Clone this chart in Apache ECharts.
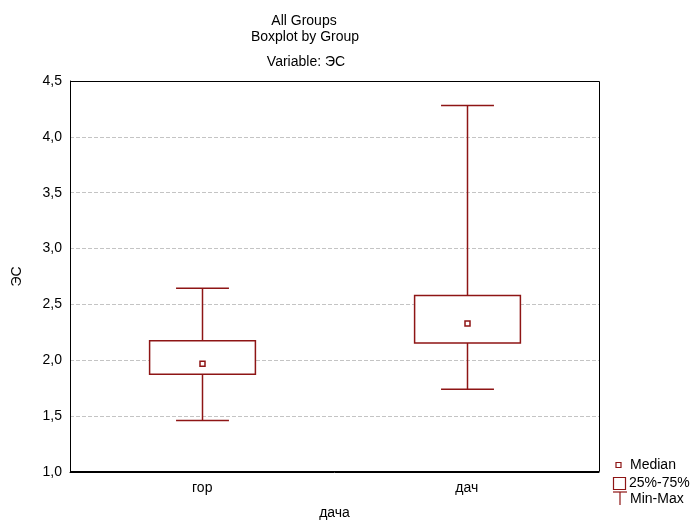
<!DOCTYPE html>
<html><head><meta charset="utf-8">
<script src="https://cdn.jsdelivr.net/npm/echarts@6/dist/echarts.min.js"></script>
<style>html,body{margin:0;padding:0;background:#fff}#c{width:694px;height:520px}</style>
</head><body><div id="c"></div>
<script>
var categories = ['гор', 'дач'];
var minVals = [1.46, 1.74];
var q1Vals = [1.875, 2.155];
var medianVals = [1.97, 2.33];
var q3Vals = [2.175, 2.58];
var maxVals = [2.645, 4.28];

var RED = '#8e1515';
var FONT = 'Liberation Sans, Arial, sans-serif';
var FS = 14;
var data = categories.map(function (c, i) { return [i, minVals[i], q1Vals[i], medianVals[i], q3Vals[i], maxVals[i]]; });

var chart = echarts.init(document.getElementById('c'), null, { renderer: 'canvas' });
chart.setOption({
  backgroundColor: '#fff',
  animation: false,
  textStyle: { fontFamily: FONT },
  grid: { left: 70, right: 95, top: 81, bottom: 48, show: false, containLabel: false, outerBoundsMode: 'none' },
  xAxis: {
    type: 'category', data: categories, boundaryGap: true,
    name: 'дача', nameLocation: 'middle', nameGap: 34,
    nameTextStyle: { color: '#000', fontSize: FS, fontFamily: FONT, verticalAlign: 'top' },
    axisLine: { lineStyle: { color: '#000', width: 1 } },
    axisTick: { inside: true, alignWithLabel: true, length: 3, lineStyle: { color: '#000' } },
    axisLabel: { color: '#000', fontSize: FS, fontFamily: FONT, margin: 9 },
    splitLine: { show: false }
  },
  yAxis: {
    type: 'value', min: 1, max: 4.5, interval: 0.5,
    name: 'ЭС', nameLocation: 'middle', nameGap: 46, nameRotate: 90,
    nameTextStyle: { color: '#000', fontSize: FS, fontFamily: FONT },
    axisLine: { show: true, lineStyle: { color: '#000', width: 1 } },
    axisTick: { show: false },
    axisLabel: { color: '#000', fontSize: FS, fontFamily: FONT, margin: 8,
      formatter: function (v) { return v.toFixed(1).replace('.', ','); } },
    splitLine: { show: true, showMinLine: false, showMaxLine: false, lineStyle: { color: '#c4c4c4', type: [4, 2], width: 1 } }
  },
  title: [
    { text: 'All Groups', left: 299, top: 9, textAlign: 'center',
      textStyle: { fontSize: FS, fontWeight: 'normal', color: '#000', fontFamily: FONT } },
    { text: 'Boxplot by Group', left: 300, top: 25, textAlign: 'center',
      textStyle: { fontSize: FS, fontWeight: 'normal', color: '#000', fontFamily: FONT } },
    { text: 'Variable: ЭС', left: 301, top: 50, textAlign: 'center',
      textStyle: { fontSize: FS, fontWeight: 'normal', color: '#000', fontFamily: FONT } }
  ],
  series: [{
    type: 'custom',
    data: data,
    encode: { x: 0, y: [1, 2, 3, 4, 5] },
    renderItem: function (params, api) {
      var idx = api.value(0);
      var bw = api.size([1, 0])[0] * 0.4;
      var cw = bw / 2;
      var pMin = api.coord([idx, api.value(1)]);
      var pQ1 = api.coord([idx, api.value(2)]);
      var pMed = api.coord([idx, api.value(3)]);
      var pQ3 = api.coord([idx, api.value(4)]);
      var pMax = api.coord([idx, api.value(5)]);
      var x = Math.round(pMin[0]) + 0.5;
      var st = { stroke: RED, lineWidth: 1.5, fill: null };
      return { type: 'group', children: [
        { type: 'line', shape: { x1: x, y1: pMax[1], x2: x, y2: pQ3[1] }, style: st },
        { type: 'line', shape: { x1: x, y1: pQ1[1], x2: x, y2: pMin[1] }, style: st },
        { type: 'line', shape: { x1: x - cw / 2, y1: pMax[1], x2: x + cw / 2, y2: pMax[1] }, style: st },
        { type: 'line', shape: { x1: x - cw / 2, y1: pMin[1], x2: x + cw / 2, y2: pMin[1] }, style: st },
        { type: 'rect', shape: { x: x - bw / 2, y: pQ3[1], width: bw, height: pQ1[1] - pQ3[1] }, style: { stroke: RED, lineWidth: 1.5, fill: '#fff' } },
        { type: 'rect', shape: { x: x - 2.5, y: pMed[1] - 2.5, width: 5, height: 5 }, style: { stroke: RED, lineWidth: 1.5, fill: '#fff' } }
      ] };
    }
  }],
  graphic: [
    { type: 'rect', z: 100, shape: { x: 70.5, y: 81.5, width: 529, height: 390 }, style: { stroke: '#000', lineWidth: 1, fill: null } },
    { type: 'rect', shape: { x: 616, y: 462.5, width: 5, height: 5 }, style: { stroke: RED, lineWidth: 1.2, fill: '#fff' } },
    { type: 'text', x: 630, y: 465, style: { text: 'Median', fill: '#000', font: FS + 'px ' + FONT, textVerticalAlign: 'middle' } },
    { type: 'rect', shape: { x: 613.5, y: 477.5, width: 12, height: 12 }, style: { stroke: RED, lineWidth: 1.2, fill: '#fff' } },
    { type: 'text', x: 629, y: 483, style: { text: '25%-75%', fill: '#000', font: FS + 'px ' + FONT, textVerticalAlign: 'middle' } },
    { type: 'line', shape: { x1: 620, y1: 492, x2: 620, y2: 505 }, style: { stroke: RED, lineWidth: 1.2 } },
    { type: 'line', shape: { x1: 613, y1: 492, x2: 627, y2: 492 }, style: { stroke: RED, lineWidth: 1.2 } },
    { type: 'text', x: 630, y: 499, style: { text: 'Min-Max', fill: '#000', font: FS + 'px ' + FONT, textVerticalAlign: 'middle' } }
  ]
});
</script></body></html>
